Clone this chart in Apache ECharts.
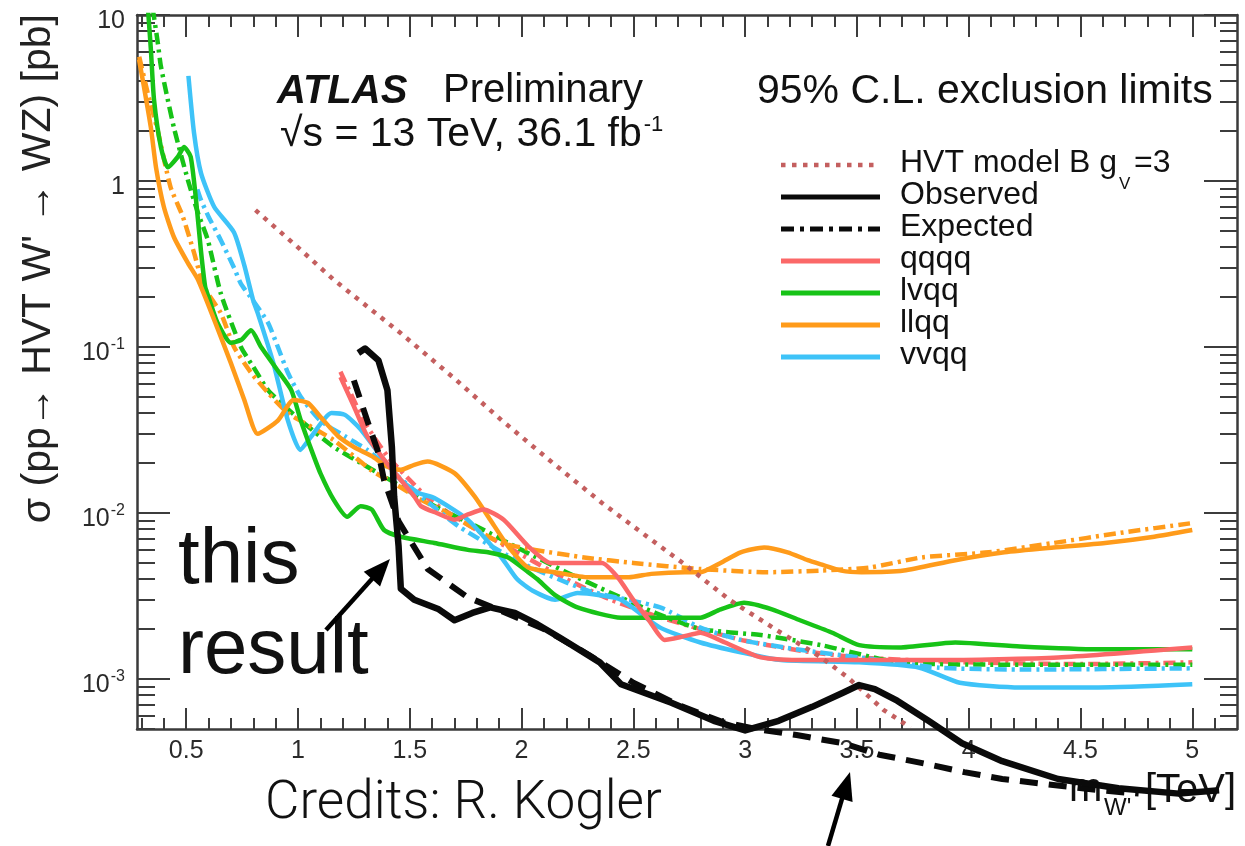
<!DOCTYPE html>
<html>
<head>
<meta charset="utf-8">
<script src="https://cdn.jsdelivr.net/npm/echarts@6/dist/echarts.min.js"></script>
<style>
  html, body { margin: 0; padding: 0; background: #ffffff; }
  #chart { width: 1245px; height: 846px; }
</style>
</head>
<body>
<div id="chart"></div>
<script>
// 95% CL upper limits on sigma(pp -> W' -> WZ) [pb] versus W' mass [TeV]

// HVT model B (g_V = 3) theory prediction
const hvtModelB = [[0.81,0.668],[1.0,0.398],[1.16,0.254],[1.46,0.121],[1.70,0.0646],[1.91,0.0363],[2.15,0.0195],[2.36,0.0115],[2.55,0.0074],[2.73,0.0049],[2.93,0.0030],[3.16,0.0019],[3.34,0.00135],[3.46,0.00102],[3.62,0.00065],[3.74,0.00051]];

// qqqq channel
const qqqqObs = [[1.19,0.066],[1.25,0.044],[1.31,0.029],[1.385,0.021],[1.46,0.0158],[1.52,0.0126],[1.55,0.011],[1.62,0.0100],[1.70,0.0091],[1.76,0.0098],[1.83,0.0105],[1.92,0.0091],[2.03,0.0063],[2.13,0.0050],[2.25,0.0050],[2.36,0.0050],[2.43,0.0041],[2.50,0.0030],[2.57,0.00226],[2.64,0.00172],[2.72,0.0018],[2.80,0.0019],[2.91,0.00166],[3.07,0.00135],[3.25,0.0013],[3.87,0.0013],[4.40,0.00135],[5.0,0.00155]];
const qqqqExp = [[1.19,0.071],[1.30,0.035],[1.40,0.022],[1.50,0.0158],[1.60,0.0117],[1.80,0.0079],[2.00,0.0056],[2.20,0.0040],[2.40,0.0030],[2.60,0.0024],[2.80,0.0020],[3.00,0.0017],[3.25,0.00148],[3.50,0.00135],[4.00,0.00126],[4.50,0.00123],[5.00,0.00126]];

// lvqq channel
const lvqqObs = [[0.33,10.5],[0.342,6.2],[0.356,3.1],[0.387,1.6],[0.418,1.21],[0.463,1.40],[0.49,1.60],[0.52,1.40],[0.544,0.77],[0.566,0.38],[0.585,0.23],[0.60,0.20],[0.64,0.140],[0.70,0.106],[0.745,0.110],[0.79,0.126],[0.835,0.100],[0.91,0.072],[0.97,0.055],[1.013,0.036],[1.06,0.024],[1.10,0.0174],[1.16,0.012],[1.22,0.0095],[1.28,0.011],[1.33,0.0105],[1.385,0.0079],[1.46,0.0072],[1.61,0.0066],[1.76,0.0060],[1.85,0.0058],[1.94,0.0054],[2.03,0.0044],[2.07,0.0040],[2.15,0.0032],[2.25,0.0027],[2.445,0.00234],[2.71,0.00234],[2.80,0.00234],[2.89,0.00263],[2.995,0.00288],[3.12,0.00263],[3.245,0.00226],[3.39,0.0019],[3.51,0.0016],[3.69,0.00155],[3.94,0.00166],[4.23,0.00157],[4.58,0.00151],[5.0,0.00151]];
const lvqqExp = [[0.35,11],[0.373,6.8],[0.387,4.9],[0.445,2.1],[0.508,1.01],[0.553,0.64],[0.597,0.44],[0.655,0.21],[0.745,0.10],[0.80,0.076],[0.866,0.055],[0.94,0.044],[1.013,0.036],[1.16,0.025],[1.31,0.019],[1.46,0.0145],[1.60,0.0112],[1.80,0.0083],[2.00,0.0060],[2.20,0.0044],[2.40,0.0033],[2.60,0.0025],[2.80,0.0020],[3.07,0.00184],[3.34,0.0016],[3.69,0.00126],[4.23,0.00122],[5.0,0.00122]];

// llqq channel
const llqqObs = [[0.289,5.4],[0.311,3.7],[0.342,2.1],[0.365,1.21],[0.40,0.70],[0.445,0.46],[0.508,0.32],[0.553,0.254],[0.625,0.146],[0.70,0.080],[0.76,0.048],[0.82,0.030],[0.91,0.036],[0.98,0.048],[1.045,0.046],[1.10,0.038],[1.18,0.029],[1.25,0.025],[1.33,0.022],[1.40,0.019],[1.46,0.0182],[1.52,0.0195],[1.58,0.0204],[1.70,0.0174],[1.79,0.0126],[1.86,0.0091],[1.94,0.0063],[2.03,0.0047],[2.15,0.0044],[2.30,0.0041],[2.48,0.0041],[2.58,0.0043],[2.73,0.0044],[2.80,0.0044],[2.89,0.0050],[2.98,0.0058],[3.085,0.0062],[3.19,0.0058],[3.28,0.0052],[3.34,0.0049],[3.43,0.0045],[3.52,0.0044],[3.71,0.0045],[3.94,0.0052],[4.16,0.0058],[4.38,0.0062],[4.61,0.0066],[4.83,0.0072],[5.0,0.0079]];
const llqqExp = [[0.29,5.6],[0.33,3.3],[0.373,2.0],[0.43,0.92],[0.485,0.61],[0.535,0.37],[0.58,0.23],[0.655,0.16],[0.714,0.10],[0.79,0.070],[0.866,0.053],[0.955,0.040],[1.06,0.033],[1.16,0.0275],[1.25,0.022],[1.33,0.018],[1.43,0.0151],[1.55,0.012],[1.67,0.010],[1.80,0.0079],[1.91,0.0066],[2.06,0.0060],[2.28,0.0054],[2.50,0.0050],[2.80,0.0046],[3.10,0.0044],[3.34,0.0045],[3.56,0.0047],[3.79,0.0054],[4.09,0.0058],[4.38,0.0066],[4.68,0.0076],[5.0,0.0087]];

// vvqq channel
const vvqqObs = [[0.51,4.3],[0.535,1.95],[0.566,1.12],[0.625,0.70],[0.714,0.49],[0.76,0.31],[0.80,0.19],[0.82,0.160],[0.89,0.080],[0.955,0.036],[1.01,0.024],[1.06,0.029],[1.15,0.040],[1.21,0.039],[1.28,0.032],[1.36,0.023],[1.46,0.0158],[1.54,0.0132],[1.61,0.0123],[1.76,0.0091],[1.91,0.0054],[1.98,0.0040],[2.05,0.0034],[2.15,0.0030],[2.25,0.0033],[2.35,0.0032],[2.445,0.0030],[2.62,0.00204],[2.80,0.00166],[2.98,0.00145],[3.16,0.0013],[3.51,0.00126],[3.78,0.00117],[3.96,0.00095],[4.23,0.00089],[4.58,0.00089],[5.0,0.00093]];
const vvqqExp = [[0.55,0.89],[0.566,0.77],[0.60,0.61],[0.655,0.44],[0.714,0.30],[0.745,0.24],[0.80,0.19],[0.866,0.140],[0.91,0.100],[0.955,0.070],[1.013,0.050],[1.10,0.036],[1.21,0.029],[1.31,0.024],[1.40,0.019],[1.55,0.0126],[1.72,0.0083],[2.00,0.0050],[2.30,0.0034],[2.62,0.0027],[2.80,0.00204],[2.98,0.00172],[3.245,0.0015],[3.51,0.00135],[3.87,0.00117],[4.23,0.00114],[5.0,0.00116]];

// Combined result
const combinedObs = [[1.27,0.092],[1.30,0.098],[1.36,0.083],[1.40,0.055],[1.42,0.025],[1.43,0.0126],[1.45,0.0063],[1.46,0.0035],[1.52,0.0030],[1.63,0.00263],[1.70,0.00226],[1.78,0.0025],[1.86,0.0027],[1.97,0.0025],[2.07,0.00214],[2.17,0.00178],[2.35,0.00126],[2.445,0.00093],[2.67,0.00072],[2.86,0.00056],[3.00,0.00049],[3.15,0.00056],[3.30,0.00068],[3.44,0.00083],[3.51,0.00092],[3.58,0.00087],[3.68,0.00074],[3.82,0.00056],[3.97,0.00041],[4.15,0.00032],[4.40,0.00025],[4.67,0.00022],[4.94,0.000204],[5.12,0.000214]];
const combinedExp = [[1.25,0.063],[1.31,0.036],[1.36,0.023],[1.385,0.0158],[1.45,0.0089],[1.58,0.0046],[1.76,0.0031],[1.90,0.0026],[2.10,0.0020],[2.30,0.0014],[2.50,0.00095],[2.70,0.00070],[2.90,0.00055],[3.05,0.00050],[3.23,0.00046],[3.44,0.00041],[3.60,0.00035],[3.80,0.00031],[3.98,0.000275],[4.15,0.00025],[4.33,0.000234],[4.58,0.000214],[4.76,0.000204]];

// Axis ticks
const xMajorTicks = [0.5, 1, 1.5, 2, 2.5, 3, 3.5, 4, 4.5, 5];
const xMinorTicks = [0.3,0.4,0.6,0.7,0.8,0.9,1.1,1.2,1.3,1.4,1.6,1.7,1.8,1.9,2.1,2.2,2.3,2.4,2.6,2.7,2.8,2.9,3.1,3.2,3.3,3.4,3.6,3.7,3.8,3.9,4.1,4.2,4.3,4.4,4.6,4.7,4.8,4.9,5.1];
const yMajorTicks = [0.001, 0.01, 0.1, 1, 10];
const yMinorTicks = [0.0005,0.0006,0.0007,0.0008,0.0009,0.002,0.003,0.004,0.005,0.006,0.007,0.008,0.009,0.02,0.03,0.04,0.05,0.06,0.07,0.08,0.09,0.2,0.3,0.4,0.5,0.6,0.7,0.8,0.9,2,3,4,5,6,7,8,9];

const C = {
  qqqq: '#fb6868',
  lvqq: '#17c317',
  llqq: '#ff9b1a',
  vvqq: '#3ec3f8',
  hvt:  '#c45f5f',
  black: '#0a0a0a'
};
const DASHDOT = [12, 5, 3, 5];
const FONT = '"Liberation Sans", Arial, Helvetica, sans-serif';
const TICK_COLOR = '#3c3c3c';
const LABEL_COLOR = '#2a2a2a';

const chart = echarts.init(document.getElementById('chart'), null, { renderer: 'canvas' });

function xAxisDef(pos, ticks, len, withLine, withLabels) {
  return {
    type: 'value', position: pos, min: 0.28, max: 5.2,
    axisLine: { show: withLine, onZero: false, lineStyle: { color: '#3a3a3a', width: 2.5 } },
    axisTick: { show: true, inside: true, length: len, customValues: ticks, lineStyle: { color: TICK_COLOR, width: 2 } },
    axisLabel: withLabels ? {
      show: true, customValues: ticks, margin: 10, color: LABEL_COLOR,
      fontFamily: FONT, fontSize: 25, formatter: v => String(v)
    } : { show: false },
    splitLine: { show: false }
  };
}
function yAxisDef(pos, ticks, len, withLine, withLabels) {
  return {
    type: 'log', logBase: 10, position: pos, min: 0.0005, max: 10,
    axisLine: { show: withLine, onZero: false, lineStyle: { color: '#3a3a3a', width: 2.5 } },
    axisTick: { show: true, inside: true, length: len, customValues: ticks, lineStyle: { color: TICK_COLOR, width: 2 } },
    axisLabel: withLabels ? {
      show: true, customValues: ticks, margin: 12, showMaxLabel: true, showMinLabel: true,
      formatter: v => {
        const e = Math.round(Math.log10(v));
        if (e === 0) return '{n|1}';
        if (e === 1) return '{n|10}';
        return '{n|10}{s|' + e + '}';
      },
      rich: {
        n: { fontSize: 25, fontFamily: FONT, color: LABEL_COLOR, padding: [12, 0, 0, 0] },
        s: { fontSize: 16, fontFamily: FONT, color: LABEL_COLOR, padding: [0, 0, 4, 1] }
      }
    } : { show: false },
    splitLine: { show: false }
  };
}

function limitLine(name, data, color, width, dash, z, opts) {
  const o = opts || {};
  return {
    name, type: 'line', data, xAxisIndex: 0, yAxisIndex: 0,
    showSymbol: false, symbol: 'none',
    smooth: o.smooth || false,
    clip: o.clip !== false, z,
    lineStyle: { color, width, type: dash || 'solid', cap: 'butt', join: 'round' },
    emphasis: { disabled: true }, silent: true
  };
}

// Legend rows
const legendRows = [
  { label: 'HVT model B g', color: C.hvt, width: 4.5, dash: [4.5, 6.5], y: 165 },
  { label: 'Observed', color: C.black, width: 5, dash: null, y: 197 },
  { label: 'Expected', color: C.black, width: 5, dash: [13, 6, 4, 6], y: 229 },
  { label: 'qqqq', color: C.qqqq, width: 5, dash: null, y: 261 },
  { label: 'lvqq', color: C.lvqq, width: 5, dash: null, y: 293 },
  { label: 'llqq', color: C.llqq, width: 5, dash: null, y: 325 },
  { label: 'vvqq', color: C.vvqq, width: 5, dash: null, y: 357 }
];

const graphics = [];
function txt(x, y, text, font, opts) {
  graphics.push(Object.assign({
    type: 'text', x, y, z: 100, silent: true,
    style: { text, font, fill: '#111111', align: 'left', verticalAlign: 'middle' }
  }, opts || {}));
}

legendRows.forEach(r => {
  graphics.push({
    type: 'line', z: 100, silent: true,
    shape: { x1: 781, y1: r.y, x2: 880, y2: r.y },
    style: { stroke: r.color, lineWidth: r.width, lineDash: r.dash || null, lineCap: 'butt' }
  });
  txt(900, r.y - 2, r.label, '32px ' + FONT);
});
// g_V subscript and "=3"
txt(1119, 184, 'V', '17px ' + FONT);
txt(1134, 163, '=3', '32px ' + FONT);

// Plot labels
txt(277, 92, 'ATLAS', 'italic bold 40px ' + FONT);
txt(443, 91, 'Preliminary', '40px ' + FONT);
graphics.push({
  type: 'text', x: 280, y: 135, z: 100, silent: true,
  style: {
    text: '{a|\u221As = 13 TeV, 36.1 fb}{s|-1}',
    align: 'left', verticalAlign: 'middle',
    rich: {
      a: { font: '41px ' + FONT, fill: '#111111' },
      s: { font: '22px ' + FONT, fill: '#111111', padding: [0, 0, 20, 2] }
    }
  }
});
txt(757, 92, '95% C.L. exclusion limits', '41px ' + FONT);

// Axis titles
graphics.push({
  type: 'text', x: 39, y: 14, rotation: Math.PI / 2, z: 100, silent: true,
  style: { text: '\u03C3 (pp\u2192 HVT W\' \u2192 WZ) [pb]', font: '41px ' + FONT, fill: '#222222', align: 'right', verticalAlign: 'middle' }
});
txt(1069, 790, 'm', '40px ' + FONT, { z: 5 });
txt(1104, 808, 'W\'', '24px ' + FONT, { z: 5 });
txt(1145, 791, '[TeV]', '40px ' + FONT, { z: 5 });

// Slide annotations
txt(178, 561, 'this', '78px ' + FONT, { z: 110 });
txt(178, 651, 'result', '78px ' + FONT, { z: 110 });
txt(265, 805, 'Credits: R. Kogler', '300 53px Roboto, ' + FONT, { z: 110 });

function arrow(x0, y0, x1, y1, headLen, headHalf) {
  const dx = x1 - x0, dy = y1 - y0, L = Math.hypot(dx, dy);
  const ux = dx / L, uy = dy / L;
  const bx = x1 - ux * headLen, by = y1 - uy * headLen;
  graphics.push({
    type: 'line', z: 110, silent: true,
    shape: { x1: x0, y1: y0, x2: bx + ux * 2, y2: by + uy * 2 },
    style: { stroke: '#000', lineWidth: 4.5 }
  });
  graphics.push({
    type: 'polygon', z: 110, silent: true,
    shape: { points: [[x1, y1], [bx - uy * headHalf, by + ux * headHalf], [bx + uy * headHalf, by - ux * headHalf]] },
    style: { fill: '#000' }
  });
}
arrow(326, 630, 390, 559, 27, 11);
arrow(828, 846, 850, 772, 28, 11);

const SM = { smooth: 0.2 };
const option = {
  animation: false,
  backgroundColor: '#ffffff',
  grid: { left: 137, right: 8, top: 15, bottom: 117, containLabel: false },
  xAxis: [
    xAxisDef('bottom', xMajorTicks, 21, true, true),
    xAxisDef('bottom', xMinorTicks, 11, false, false),
    xAxisDef('top', xMajorTicks, 22, true, false),
    xAxisDef('top', xMinorTicks, 12, false, false)
  ],
  yAxis: [
    yAxisDef('left', yMajorTicks, 33, true, true),
    yAxisDef('left', yMinorTicks, 18, false, false),
    yAxisDef('right', yMajorTicks, 33, true, false),
    yAxisDef('right', yMinorTicks, 17, false, false)
  ],
  series: [
    limitLine('qqqq expected', qqqqExp, C.qqqq, 4.5, DASHDOT, 3, SM),
    limitLine('lvqq expected', lvqqExp, C.lvqq, 4.5, DASHDOT, 3, SM),
    limitLine('llqq expected', llqqExp, C.llqq, 4.5, DASHDOT, 3, SM),
    limitLine('vvqq expected', vvqqExp, C.vvqq, 4.5, DASHDOT, 3, SM),
    limitLine('vvqq', vvqqObs, C.vvqq, 4.5, null, 4, SM),
    limitLine('lvqq', lvqqObs, C.lvqq, 4.5, null, 4, SM),
    limitLine('llqq', llqqObs, C.llqq, 4.5, null, 4, SM),
    limitLine('qqqq', qqqqObs, C.qqqq, 4.5, null, 4, SM),
    limitLine('HVT model B', hvtModelB, C.hvt, 4.5, [4.5, 6.5], 5, { clip: false }),
    limitLine('Expected', combinedExp, C.black, 6, [18, 11], 6, { clip: false }),
    limitLine('Observed', combinedObs, C.black, 6.5, null, 7, { clip: false })
  ],
  graphic: graphics
};
chart.setOption(option);
</script>
</body>
</html>
